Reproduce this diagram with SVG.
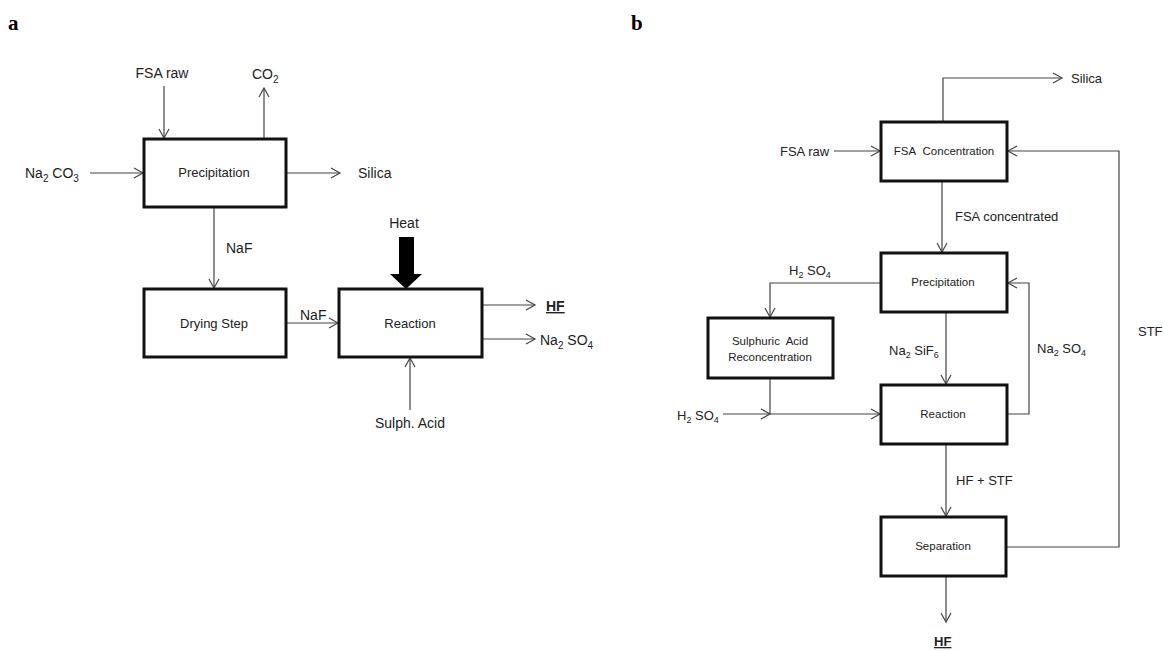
<svg xmlns="http://www.w3.org/2000/svg" width="1164" height="651" viewBox="0 0 1164 651">
<style>
.box{fill:#fff;stroke:#111;stroke-width:3}
.ln{fill:none;stroke:#444;stroke-width:1.2}
.t{font-family:"Liberation Sans",Arial,sans-serif;fill:#222}
.big{font-size:14px}
.mid{font-size:13px}
.sm{font-size:13px}
.xs{font-size:11.5px}
.pl{font-family:"Liberation Serif","Times New Roman",serif;font-weight:bold;font-size:21px;fill:#000}
.b{font-weight:bold;text-decoration:underline}
</style>
<defs>
<marker id="ah" markerWidth="12" markerHeight="12" refX="10" refY="6" orient="auto" markerUnits="userSpaceOnUse">
<path d="M1,1 L10,6 L1,11" fill="none" stroke="#444" stroke-width="1.2"/>
</marker>
</defs>
<rect width="1164" height="651" fill="#fff"/>
<text class="pl" x="8" y="30">a</text>
<text class="pl" x="631" y="30">b</text>

<g id="connectors">
<line class="ln" x1="164" y1="86" x2="164" y2="138" marker-end="url(#ah)"/>
<line class="ln" x1="264" y1="139" x2="264" y2="88" marker-end="url(#ah)"/>
<line class="ln" x1="90" y1="173" x2="143" y2="173" marker-end="url(#ah)"/>
<line class="ln" x1="286" y1="173" x2="340" y2="173" marker-end="url(#ah)"/>
<line class="ln" x1="214" y1="207" x2="214" y2="288" marker-end="url(#ah)"/>
<line class="ln" x1="287" y1="323" x2="338" y2="323" marker-end="url(#ah)"/>
<line class="ln" x1="482" y1="305" x2="535" y2="305" marker-end="url(#ah)"/>
<line class="ln" x1="482" y1="339" x2="535" y2="339" marker-end="url(#ah)"/>
<line class="ln" x1="410" y1="410" x2="410" y2="358" marker-end="url(#ah)"/>
<polygon points="399,237 414,237 414,274 422,274 406,289 390,274 399,274" fill="#000"/>
<polyline class="ln" points="943,122 943,78 1062,78" marker-end="url(#ah)"/>
<line class="ln" x1="834" y1="151" x2="880" y2="151" marker-end="url(#ah)"/>
<polyline class="ln" points="1007,547 1119,547 1119,151 1008,151" marker-end="url(#ah)"/>
<line class="ln" x1="942" y1="181" x2="942" y2="252" marker-end="url(#ah)"/>
<polyline class="ln" points="881,283 770,283 770,317" marker-end="url(#ah)"/>
<line class="ln" x1="770" y1="378" x2="770" y2="414"/>
<line class="ln" x1="723" y1="414" x2="770" y2="414" marker-end="url(#ah)"/>
<line class="ln" x1="770" y1="414" x2="880" y2="414" marker-end="url(#ah)"/>
<line class="ln" x1="946" y1="312" x2="946" y2="384" marker-end="url(#ah)"/>
<polyline class="ln" points="1007,414 1029,414 1029,283 1008,283" marker-end="url(#ah)"/>
<line class="ln" x1="946" y1="444" x2="946" y2="516" marker-end="url(#ah)"/>
<line class="ln" x1="946" y1="576" x2="946" y2="622" marker-end="url(#ah)"/>
</g>

<g id="a-precipitation"><rect class="box" x="144" y="139" width="142" height="68"/><text class="t sm" x="214" y="177" text-anchor="middle">Precipitation</text></g>
<g id="a-drying"><rect class="box" x="144" y="289" width="142" height="68"/><text class="t sm" x="214" y="328" text-anchor="middle">Drying Step</text></g>
<g id="a-reaction"><rect class="box" x="339" y="289" width="143" height="68"/><text class="t sm" x="410" y="328" text-anchor="middle">Reaction</text></g>

<g id="a-labels">
<text class="t big" x="162" y="78" text-anchor="middle">FSA raw</text>
<text class="t big" x="252" y="79">CO<tspan font-size="10" dy="4">2</tspan></text>
<text class="t big" x="25" y="178">Na<tspan font-size="10" dy="4">2</tspan><tspan dy="-4"> CO</tspan><tspan font-size="10" dy="4">3</tspan></text>
<text class="t big" x="358" y="178">Silica</text>
<text class="t big" x="226" y="253">NaF</text>
<text class="t big" x="300" y="320">NaF</text>
<text class="t big" x="404" y="228" text-anchor="middle">Heat</text>
<text class="t big b" x="546" y="311">HF</text>
<text class="t big" x="540" y="345">Na<tspan font-size="10" dy="4">2</tspan><tspan dy="-4"> SO</tspan><tspan font-size="10" dy="4">4</tspan></text>
<text class="t big" x="410" y="428" text-anchor="middle">Sulph. Acid</text>
</g>

<g id="b-fsaconc"><rect class="box" x="881" y="122" width="126" height="59"/><text class="t xs" x="944" y="155" text-anchor="middle">FSA&#160; Concentration</text></g>
<g id="b-precipitation"><rect class="box" x="881" y="253" width="126" height="59"/><text class="t xs" x="943" y="286" text-anchor="middle">Precipitation</text></g>
<g id="b-sulphuric"><rect class="box" x="708" y="318" width="125" height="60"/><text class="t xs" x="770" y="345" text-anchor="middle">Sulphuric&#160; Acid</text><text class="t xs" x="770" y="361" text-anchor="middle">Reconcentration</text></g>
<g id="b-reaction"><rect class="box" x="881" y="385" width="126" height="59"/><text class="t xs" x="943" y="418" text-anchor="middle">Reaction</text></g>
<g id="b-separation"><rect class="box" x="881" y="517" width="125" height="59"/><text class="t xs" x="943" y="550" text-anchor="middle">Separation</text></g>

<g id="b-labels">
<text class="t mid" x="1071" y="83">Silica</text>
<text class="t mid" x="780" y="156">FSA raw</text>
<text class="t mid" x="955" y="221">FSA concentrated</text>
<text class="t mid" x="789" y="275">H<tspan font-size="9" dy="3">2</tspan><tspan dy="-3"> SO</tspan><tspan font-size="9" dy="3">4</tspan></text>
<text class="t mid" x="677" y="420">H<tspan font-size="9" dy="3">2</tspan><tspan dy="-3"> SO</tspan><tspan font-size="9" dy="3">4</tspan></text>
<text class="t mid" x="889" y="355">Na<tspan font-size="9" dy="3">2</tspan><tspan dy="-3"> SiF</tspan><tspan font-size="9" dy="3">6</tspan></text>
<text class="t mid" x="1037" y="353">Na<tspan font-size="9" dy="3">2</tspan><tspan dy="-3"> SO</tspan><tspan font-size="9" dy="3">4</tspan></text>
<text class="t mid" x="1138" y="336">STF</text>
<text class="t mid" x="956" y="485">HF + STF</text>
<text class="t mid b" x="934" y="646">HF</text>
</g>
</svg>
